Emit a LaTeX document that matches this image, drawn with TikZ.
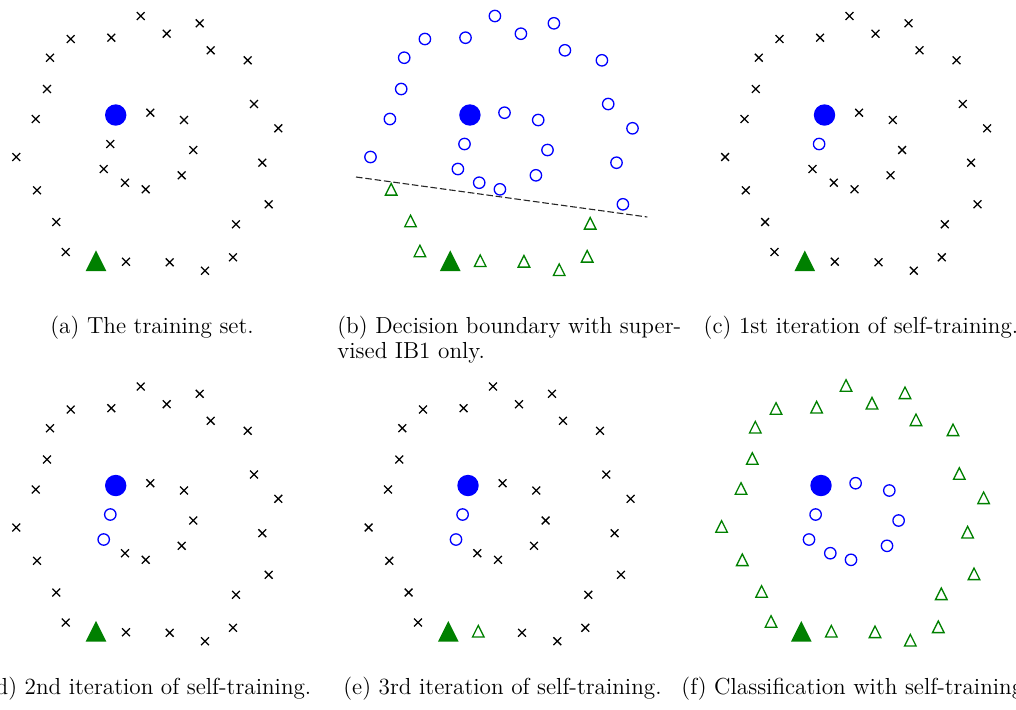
\documentclass[tikz,border=0pt]{standalone}
\definecolor{tgreen}{rgb}{0,0.5,0}
\tikzset{
  xmark/.style={black, line width=0.65pt},
  ocirc/.style={draw=blue, line width=0.65pt},
  otri/.style={draw=tgreen, line width=0.65pt, line join=miter},
  captxt/.style={inner sep=0pt, font=\fontsize{11.6pt}{12.5pt}\selectfont, align=left},
  boundary/.style={dash pattern=on 3.3pt off 1.4pt, line width=0.55pt, black!85}
}
\newcommand\mkX[1]{\draw[xmark] (#1) +(-3.9,-3.9) -- +(3.9,3.9) +(-3.9,3.9) -- +(3.9,-3.9);}
\newcommand\mkO[1]{\draw[ocirc] (#1) circle[radius=2.85pt];}
\newcommand\mkT[1]{\draw[otri] (#1) +(0,-6.8) -- +(5.8,4.8) -- +(-5.8,4.8) -- cycle;}
\newcommand\mkBig{\fill[blue] (115.7,115) circle[radius=5.35pt];
  \fill[tgreen] (96,261.2) +(0,-10.8) -- +(10.4,10) -- +(-10.4,10) -- cycle;}
% point sets (pixel coordinates relative to panel (a))
\def\Otop{140.7/16,199.7/23.3,166.7/33.7,111.3/37.7,70.7/39,210.7/50.3,50/57.7,247.7/60.3,47/89,254/104,35.7/119,278.3/128.3,16.3/157,262.3/162.7,268.7/204.3}
\def\Obot{37/190.3,56.3/222,236/224.3,65.7/252,233/257.3,169.7/262.3,205/270.7}
\def\Ob{126/261.7}
\def\Iset{150.3/112.7,184/120,193.3/150,181.7/175.3,125/182.7,145.7/189.3}
\def\Ithree{110.3/144}
\def\Ifive{103.7/169}
\begin{document}
\begin{tikzpicture}[x=0.5pt,y=-0.5pt]
\useasboundingbox (0,0) rectangle (1016,709);
% (a)
\begin{scope}
  \foreach \a/\b in \Otop {\mkX{\a,\b}}
  \foreach \a/\b in \Obot {\mkX{\a,\b}}
  \foreach \a/\b in \Ob {\mkX{\a,\b}}
  \foreach \a/\b in \Iset {\mkX{\a,\b}}
  \foreach \a/\b in \Ithree {\mkX{\a,\b}}
  \foreach \a/\b in \Ifive {\mkX{\a,\b}}
  \mkBig
\end{scope}
% (b)
\begin{scope}[shift={(354.2,0)}]
  \coordinate (db1) at (1.8,177);
  \coordinate (db2) at (293.1,217);
  \draw[boundary] (db1) -- (db2);
  \foreach \a/\b in \Otop {\mkO{\a,\b}}
  \foreach \a/\b in \Iset {\mkO{\a,\b}}
  \foreach \a/\b in \Ithree {\mkO{\a,\b}}
  \foreach \a/\b in \Ifive {\mkO{\a,\b}}
  \foreach \a/\b in \Obot {\mkT{\a,\b}}
  \foreach \a/\b in \Ob {\mkT{\a,\b}}
  \mkBig
\end{scope}
% (c)
\begin{scope}[shift={(708.8,0)}]
  \foreach \a/\b in \Otop {\mkX{\a,\b}}
  \foreach \a/\b in \Obot {\mkX{\a,\b}}
  \foreach \a/\b in \Ob {\mkX{\a,\b}}
  \foreach \a/\b in \Iset {\mkX{\a,\b}}
  \foreach \a/\b in \Ifive {\mkX{\a,\b}}
  \foreach \a/\b in \Ithree {\mkO{\a,\b}}
  \mkBig
\end{scope}
% (d)
\begin{scope}[shift={(0,370.5)}]
  \foreach \a/\b in \Otop {\mkX{\a,\b}}
  \foreach \a/\b in \Obot {\mkX{\a,\b}}
  \foreach \a/\b in \Ob {\mkX{\a,\b}}
  \foreach \a/\b in \Iset {\mkX{\a,\b}}
  \foreach \a/\b in \Ithree {\mkO{\a,\b}}
  \foreach \a/\b in \Ifive {\mkO{\a,\b}}
  \mkBig
\end{scope}
% (e)
\begin{scope}[shift={(352.3,370.5)}]
  \foreach \a/\b in \Otop {\mkX{\a,\b}}
  \foreach \a/\b in \Obot {\mkX{\a,\b}}
  \foreach \a/\b in \Iset {\mkX{\a,\b}}
  \foreach \a/\b in \Ithree {\mkO{\a,\b}}
  \foreach \a/\b in \Ifive {\mkO{\a,\b}}
  \foreach \a/\b in \Ob {\mkT{\a,\b}}
  \mkBig
\end{scope}
% (f)
\begin{scope}[shift={(705.3,370.5)}]
  \foreach \a/\b in \Otop {\mkT{\a,\b}}
  \foreach \a/\b in \Obot {\mkT{\a,\b}}
  \foreach \a/\b in \Ob {\mkT{\a,\b}}
  \foreach \a/\b in \Iset {\mkO{\a,\b}}
  \foreach \a/\b in \Ithree {\mkO{\a,\b}}
  \foreach \a/\b in \Ifive {\mkO{\a,\b}}
  \mkBig
\end{scope}
% captions
\node[captxt, anchor=base west] (capa) at (50,333) {(a) The training set.};
\node[captxt, anchor=base west] (capb) at (337,358.3) {(b) Decision boundary with super-\\vised IB1 only.};
\node[captxt, anchor=base west] (capc) at (703.3,333) {(c) 1st iteration of self-training.};
\node[captxt, anchor=base east] (capd) at (311.7,694) {(d) 2nd iteration of self-training.};
\node[captxt, anchor=base west] (cape) at (343,694) {(e) 3rd iteration of self-training.};
\node[captxt, anchor=base west] (capf) at (681,694) {(f) Classification with self-training};
\end{tikzpicture}
\end{document}
